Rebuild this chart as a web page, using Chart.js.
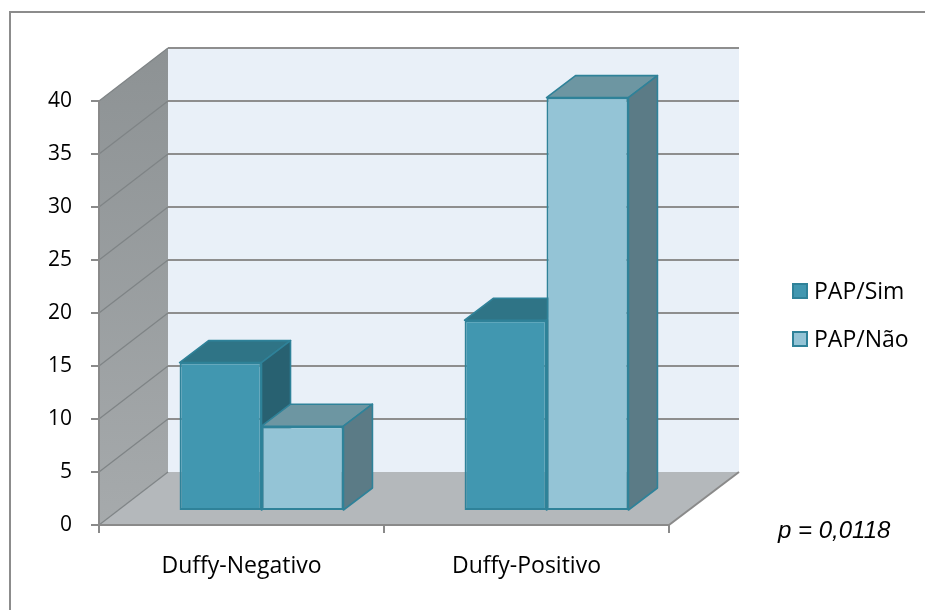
<!DOCTYPE html>
<html>
<head>
<meta charset="utf-8">
<script src="https://cdn.jsdelivr.net/npm/chart.js@4/dist/chart.umd.min.js"></script>
<style>
  html, body { margin: 0; padding: 0; background: #ffffff; }
  canvas { display: block; }
</style>
</head>
<body>
<canvas id="chart" width="925" height="610"></canvas>
<script>
// ---- data ----
const categories = ['Duffy-Negativo', 'Duffy-Positivo'];
const seriesNames = ['PAP/Sim', 'PAP/Não'];
const papSim = [14, 18];
const papNao = [8, 39];
const yMin = 0;
const yMax = 40;
const yStep = 5;
const pValueLabel = 'p = 0,0118';

// ---- look ----
const FONT = '"Open Sans", Lato, sans-serif';
const NUM_SIZE = 21;
const TEXT_SIZE = 23;
const faceColors = [
  { front: '#4197b0', top: '#2f7486', side: '#286171' },
  { front: '#94c4d6', top: '#6d96a2', side: '#5b7b86' }
];
const edgeColor = '#2f8299';
const axisGray = '#8a8a8a';

// oblique depth of the plot box (back wall offset), bar placement inside it
const WALL = { dx: 70, dy: -53 };
const BAR_SHIFT = { dx: 20, dy: -14 };
const BAR_DEPTH = { dx: 29, dy: -22 };

function poly(ctx, pts, fill, stroke, lw) {
  ctx.beginPath();
  ctx.moveTo(pts[0][0], pts[0][1]);
  for (let i = 1; i < pts.length; i++) ctx.lineTo(pts[i][0], pts[i][1]);
  ctx.closePath();
  if (fill) { ctx.fillStyle = fill; ctx.fill(); }
  if (stroke) { ctx.strokeStyle = stroke; ctx.lineWidth = lw || 1; ctx.stroke(); }
}

const box3d = {
  id: 'box3d',
  beforeDraw(chart) {
    const { ctx, chartArea: a, scales } = chart;
    const y = scales.y;
    const L = a.left, R = a.right, T = y.getPixelForValue(yMax), B = y.getPixelForValue(yMin);
    ctx.save();

    // frame around the whole figure
    ctx.strokeStyle = '#8c8c8c';
    ctx.lineWidth = 2;
    ctx.beginPath();
    ctx.moveTo(10, 610); ctx.lineTo(10, 12); ctx.lineTo(925, 12);
    ctx.stroke();

    const bL = L + WALL.dx - 1, bR = R + WALL.dx, bT = T + WALL.dy, bB = B + WALL.dy;

    // back wall
    ctx.fillStyle = '#e9f0f8';
    ctx.fillRect(bL, bT, bR - bL, bB - bT);

    // side wall with soft vertical shading
    const g = ctx.createLinearGradient(0, bT, 0, B);
    g.addColorStop(0, '#8d9294');
    g.addColorStop(1, '#a6aaac');
    poly(ctx, [[L, T], [bL, bT], [bL, bB], [L, B]], g);

    // floor
    poly(ctx, [[L, B], [R, B], [bR, bB], [bL, bB]], '#b4b8bb');

    // grid: side diagonals + back wall lines
    for (let v = yMin; v <= yMax; v += yStep) {
      const py = y.getPixelForValue(v);
      ctx.strokeStyle = '#7f8486';
      ctx.lineWidth = 1.3;
      ctx.beginPath();
      ctx.moveTo(L, py); ctx.lineTo(bL, py + WALL.dy);
      ctx.stroke();
      if (v > yMin) {
        ctx.strokeStyle = '#8e8e8e';
        ctx.lineWidth = 2;
        ctx.beginPath();
        ctx.moveTo(bL, py + WALL.dy); ctx.lineTo(bR, py + WALL.dy);
        ctx.stroke();
      }
    }
    // right edge of the floor
    ctx.strokeStyle = axisGray;
    ctx.lineWidth = 2;
    ctx.beginPath();
    ctx.moveTo(R, B); ctx.lineTo(bR, bB);
    ctx.stroke();
    ctx.restore();
  },
  beforeDatasetsDraw(chart) {
    const ctx = chart.ctx;
    ctx.save();
    ctx.translate(BAR_SHIFT.dx, BAR_SHIFT.dy);
    // top and side faces, series in order; front faces come from the bar elements
    ctx.lineJoin = 'round';
    chart.data.datasets.forEach((ds, i) => {
      const meta = chart.getDatasetMeta(i);
      const c = faceColors[i];
      meta.data.forEach(el => {
        const { x, y, base, width } = el.getProps(['x', 'y', 'base', 'width'], true);
        const l = x - width / 2, r = x + width / 2;
        poly(ctx, [[l, y], [r, y], [r + BAR_DEPTH.dx, y + BAR_DEPTH.dy], [l + BAR_DEPTH.dx, y + BAR_DEPTH.dy]], c.top, edgeColor, 1.6);
        poly(ctx, [[r, y], [r + BAR_DEPTH.dx, y + BAR_DEPTH.dy], [r + BAR_DEPTH.dx, base + BAR_DEPTH.dy], [r, base]], c.side, edgeColor, 1.6);
      });
    });
  },
  afterDatasetsDraw(chart) {
    chart.ctx.restore();
  },
  afterDraw(chart) {
    const ctx = chart.ctx;
    ctx.save();
    // legend
    const lx = 792, ly = [291, 339];
    chart.data.datasets.forEach((ds, i) => {
      ctx.fillStyle = ds.backgroundColor;
      ctx.fillRect(lx, ly[i] - 8, 16, 16);
      ctx.strokeStyle = edgeColor;
      ctx.lineWidth = 2;
      ctx.strokeRect(lx + 1, ly[i] - 7, 14, 14);
      ctx.fillStyle = '#000000';
      ctx.font = TEXT_SIZE + 'px ' + FONT;
      ctx.textAlign = 'left';
      ctx.textBaseline = 'middle';
      ctx.fillText(ds.label, lx + 22, ly[i] + 1);
    });
    // significance note
    ctx.font = 'italic 24px "Liberation Sans", Arial, sans-serif';
    ctx.textAlign = 'left';
    ctx.textBaseline = 'middle';
    ctx.fillStyle = '#000000';
    ctx.fillText(pValueLabel, 778, 531);
    ctx.restore();
  }
};

new Chart(document.getElementById('chart'), {
  type: 'bar',
  data: {
    labels: categories,
    datasets: [
      { label: seriesNames[0], data: papSim, backgroundColor: faceColors[0].front,
        borderColor: edgeColor, borderWidth: 2, borderSkipped: false, clip: false },
      { label: seriesNames[1], data: papNao, backgroundColor: faceColors[1].front,
        borderColor: edgeColor, borderWidth: 2, borderSkipped: false, clip: false }
    ]
  },
  options: {
    responsive: false,
    animation: false,
    events: [],
    layout: { padding: { left: 0, right: 256, top: 101, bottom: 10 } },
    datasets: { bar: { categoryPercentage: 0.575, barPercentage: 1 } },
    plugins: { legend: { display: false }, tooltip: { enabled: false } },
    scales: {
      x: {
        grid: { offset: true, drawOnChartArea: false, drawTicks: true, tickLength: 8, color: axisGray, lineWidth: 2 },
        border: { display: true, color: axisGray, width: 2 },
        ticks: { color: '#000000', font: { family: FONT, size: TEXT_SIZE }, padding: 20 },
        afterFit(scale) { scale.height = 75; }
      },
      y: {
        min: yMin, max: yMax,
        grid: { drawOnChartArea: false, drawTicks: true, tickLength: 8, color: axisGray, lineWidth: 2 },
        border: { display: true, color: axisGray, width: 2 },
        ticks: { stepSize: yStep, color: '#000000', font: { family: FONT, size: NUM_SIZE }, padding: 19 },
        afterFit(scale) { scale.width = 99; }
      }
    }
  },
  plugins: [box3d]
});
</script>
</body>
</html>
